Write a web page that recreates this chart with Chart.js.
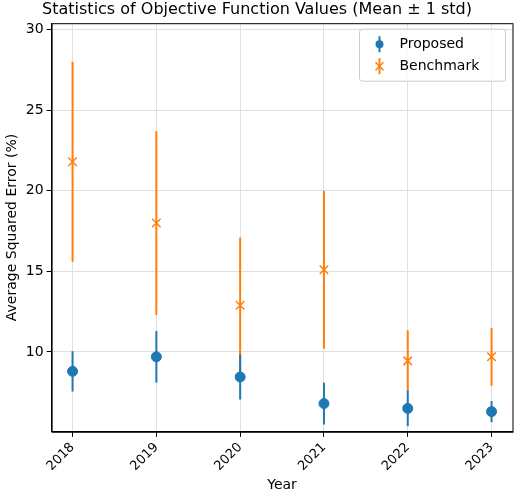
<!DOCTYPE html>
<html><head><meta charset="utf-8">
<script src="https://cdn.jsdelivr.net/npm/chart.js"></script>
<style>body{margin:0;background:#fff}#w{width:520px;height:500px}</style>
</head><body><div id="w"><canvas id="c"></canvas></div>
<script>
const years = [2018, 2019, 2020, 2021, 2022, 2023];
const proposedMean = [8.8, 9.7, 8.45, 6.8, 6.5, 6.3];
const proposedStd = [1.25, 1.6, 1.4, 1.3, 1.1, 0.65];
const benchMean = [21.8, 18.0, 12.9, 15.1, 9.45, 9.7];
const benchStd = [6.2, 5.7, 4.2, 4.9, 1.9, 1.8];
const yTicks = [10, 15, 20, 25, 30];
const BLUE = '#1f77b4', ORANGE = '#ff7f0e';

const errPlugin = {
  id: 'err',
  beforeDatasetsDraw(chart) {
    const {ctx, scales: {x, y}} = chart;
    ctx.save(); ctx.lineWidth = 2;
    [[benchMean, benchStd, ORANGE], [proposedMean, proposedStd, BLUE]].forEach(([m, s, col]) => {
      ctx.strokeStyle = col;
      years.forEach((yr, i) => {
        const px = x.getPixelForValue(yr);
        ctx.beginPath();
        ctx.moveTo(px, y.getPixelForValue(m[i] - s[i]));
        ctx.lineTo(px, y.getPixelForValue(m[i] + s[i]));
        ctx.stroke();
      });
    });
    ctx.restore();
  },
  afterDraw(chart) {
    const {ctx, chartArea: a} = chart;
    ctx.save();
    ctx.strokeStyle = '#000'; ctx.lineWidth = 1;
    ctx.strokeRect(a.left + 0.5, a.top + 0.5, a.right - a.left, a.bottom - a.top);
    const lx = a.right - 153, ly = a.top + 6;
    ctx.fillStyle = 'rgba(255,255,255,0.85)'; ctx.strokeStyle = '#ccc';
    ctx.beginPath(); ctx.roundRect(lx, ly, 146, 52, 3); ctx.fill(); ctx.stroke();
    ctx.font = '14px "DejaVu Sans"'; ctx.textBaseline = 'middle'; ctx.fillStyle = '#000';
    const items = [['Proposed', BLUE, 'dot'], ['Benchmark', ORANGE, 'x']];
    items.forEach(([t, col, mk], i) => {
      const cy = ly + 15 + i * 22, cx = lx + 20;
      ctx.strokeStyle = col; ctx.fillStyle = col; ctx.lineWidth = 2;
      ctx.beginPath(); ctx.moveTo(cx, cy - 8); ctx.lineTo(cx, cy + 8); ctx.stroke();
      if (mk === 'dot') { ctx.beginPath(); ctx.arc(cx, cy, 4, 0, Math.PI * 2); ctx.fill(); }
      else { ctx.lineWidth = 1.5; ctx.beginPath(); ctx.moveTo(cx - 4, cy - 4); ctx.lineTo(cx + 4, cy + 4); ctx.moveTo(cx + 4, cy - 4); ctx.lineTo(cx - 4, cy + 4); ctx.stroke(); }
      ctx.fillStyle = '#000'; ctx.fillText(t, cx + 20, cy);
    });
    ctx.restore();
  }
};

new Chart(document.getElementById('c'), {
  type: 'scatter',
  data: {
    datasets: [
      {label: 'Proposed', data: years.map((y, i) => ({x: y, y: proposedMean[i]})), pointStyle: 'circle', radius: 5, backgroundColor: BLUE, borderColor: BLUE},
      {label: 'Benchmark', data: years.map((y, i) => ({x: y, y: benchMean[i]})), pointStyle: 'cross', rotation: 45, radius: 6, borderWidth: 1.5, backgroundColor: ORANGE, borderColor: ORANGE}
    ]
  },
  options: {
    responsive: true, maintainAspectRatio: false, animation: false,
    layout: {padding: {left: 0, right: 6, top: 0, bottom: 2}},
    plugins: {
      legend: {display: false}, tooltip: {enabled: false},
      title: {display: true, text: 'Statistics of Objective Function Values (Mean \u00b1 1 std)', color: '#000', font: {family: 'DejaVu Sans', size: 16, weight: 'normal'}, padding: {top: 0, bottom: 4}}
    },
    scales: {
      x: {type: 'linear', min: 2017.75, max: 2023.25,
        afterBuildTicks: s => { s.ticks = years.map(v => ({value: v})); },
        ticks: {color: '#000', font: {family: 'DejaVu Sans', size: 13}, maxRotation: 45, minRotation: 45, callback: v => String(v)},
        grid: {color: '#e0e0e0', tickColor: '#000', tickLength: 5},
        border: {color: '#000'},
        title: {display: true, text: 'Year', color: '#000', font: {family: 'DejaVu Sans', size: 14}, padding: {top: 0}}
      },
      y: {min: 5.05, max: 30.4,
        afterBuildTicks: s => { s.ticks = yTicks.map(v => ({value: v})); },
        ticks: {color: '#000', font: {family: 'DejaVu Sans', size: 14}},
        grid: {color: '#e0e0e0', tickColor: '#000', tickLength: 5},
        border: {color: '#000'},
        title: {display: true, text: 'Average Squared Error (%)', color: '#000', font: {family: 'DejaVu Sans', size: 14}, padding: {bottom: 2}}
      }
    }
  },
  plugins: [errPlugin]
});
</script></body></html>
